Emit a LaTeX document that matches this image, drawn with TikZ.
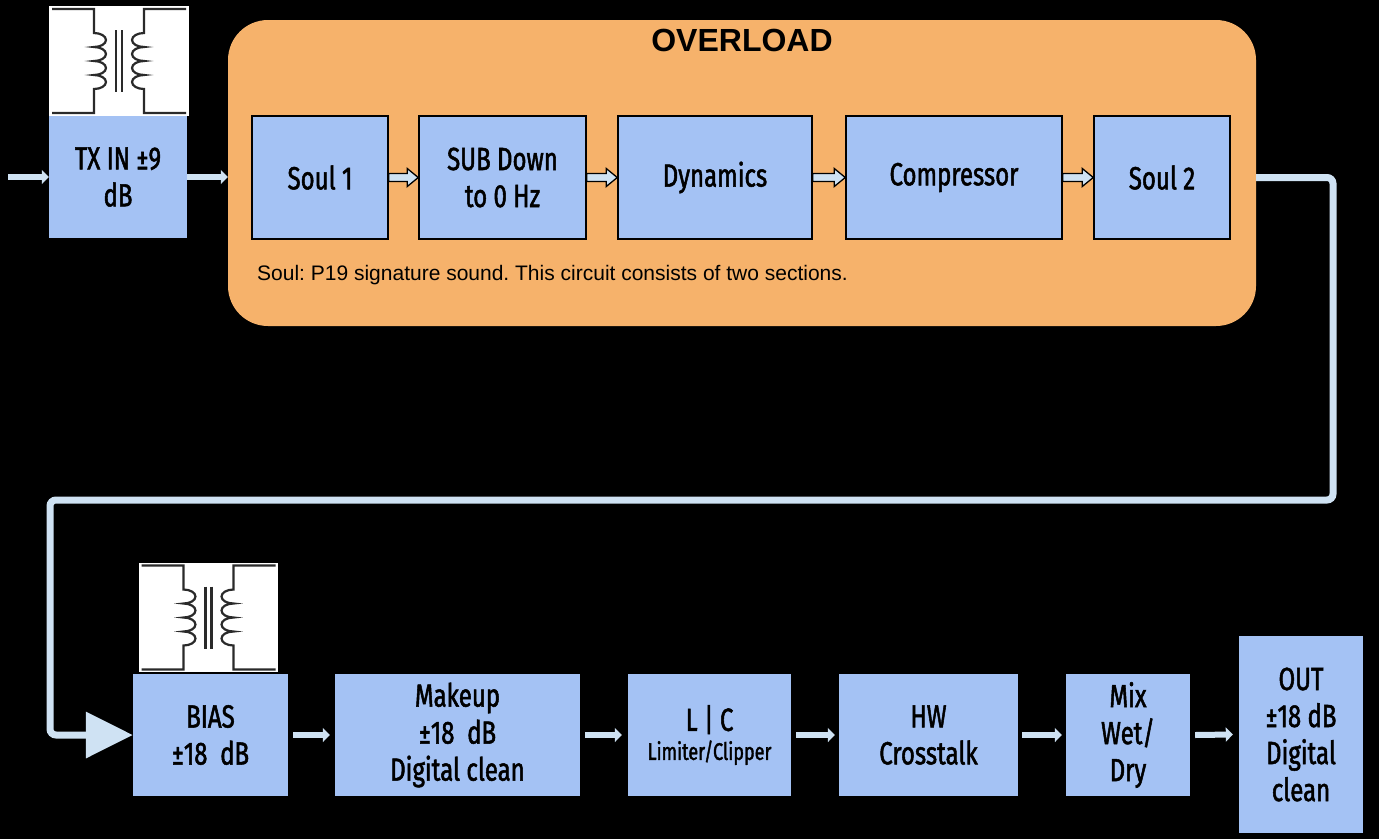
\documentclass[tikz,border=0pt]{standalone}
\usepackage{fontspec}
\setmainfont{Liberation Sans}
\newfontfamily\osw[FakeStretch=0.75,FakeBold=1.6]{Fira Sans}
\usetikzlibrary{arrows.meta,calc}
\definecolor{boxblue}{HTML}{A4C2F4}
\definecolor{ovlorange}{HTML}{F6B26B}
\definecolor{arrowblue}{HTML}{CFE2F3}
\definecolor{wirec}{HTML}{2A2A2A}
\frenchspacing
\tikzset{
  blk/.style={fill=boxblue, inner sep=0pt, align=center, text=black,
    font=\osw\fontsize{32}{37}\selectfont},
  inblk/.style={blk, draw=black, line width=1.5pt},
  xfbox/.style={fill=white, inner sep=0pt},
  flow/.style={draw=arrowblue, line width=6pt, -{Triangle[length=7pt,width=14pt]}},
  loopline/.style={draw=arrowblue, line width=7pt, rounded corners=6pt,
    -{Triangle[length=47pt,width=45pt]}},
  blockarr/.style={fill=arrowblue, draw=black, line width=1.3pt, line join=miter},
  wire/.style={draw=wirec, line width=2.2pt}
}
\newcommand{\blockarrow}[2]{%
  \draw[blockarr] let \p1=(#1.east), \p2=(#2.west) in
    (\x1,\y1+4pt) -- (\x2-11pt,\y1+4pt) -- (\x2-11pt,\y1+9pt) -- (\x2,\y1)
    -- (\x2-11pt,\y1-9pt) -- (\x2-11pt,\y1-4pt) -- (\x1,\y1-4pt) -- cycle;}
\newcommand{\xfmr}[1]{%
  \begin{scope}[shift={(#1.center)}]
    \draw[wire] (-67,-52) -- (-25,-52) -- (-25,-28)
      arc[start angle=-90,end angle=90,x radius=12,y radius=7]
      arc[start angle=-90,end angle=90,x radius=12,y radius=7]
      arc[start angle=-90,end angle=90,x radius=12,y radius=7]
      arc[start angle=-90,end angle=90,x radius=12,y radius=7]
      -- (-25,52) -- (-67,52);
    \draw[wire] (67,-52) -- (25,-52) -- (25,-28)
      arc[start angle=270,end angle=90,x radius=12,y radius=7]
      arc[start angle=270,end angle=90,x radius=12,y radius=7]
      arc[start angle=270,end angle=90,x radius=12,y radius=7]
      arc[start angle=270,end angle=90,x radius=12,y radius=7]
      -- (25,52) -- (67,52);
    \draw[wire] (-3,-31) -- (-3,31);
    \draw[wire] (3,-31) -- (3,31);
  \end{scope}}
\begin{document}
\begin{tikzpicture}[x=1pt,y=-1pt]
\fill[black] (0,0) rectangle (1379,839);
\useasboundingbox (0,0) rectangle (1379,839);

% top row
\node[xfbox, minimum width=140, minimum height=110] (tf1) at (119,61) {};
\xfmr{tf1}
\node[blk, minimum width=138, minimum height=122] (tx) at (118,177) {TX IN ±9\\dB};
\coordinate (in) at (8,177);

\node[fill=ovlorange, rounded corners=40pt, minimum width=1028, minimum height=306, inner sep=0pt] (ovl) at (742,173) {};
\node[font=\bfseries\fontsize{32}{36}\selectfont, text=black] (title) at (742,40) {OVERLOAD};
\node[font=\fontsize{21}{24}\selectfont, text=black, anchor=west, inner sep=0pt] (cap) at (257,275) {Soul: P19 signature sound. This circuit consists of two sections.};

\node[inblk, minimum width=136, minimum height=123] (s1) at (320,177.5) {Soul 1};
\node[inblk, minimum width=167, minimum height=123] (sub) at (502.5,177.5) {SUB Down\\to 0 Hz};
\node[inblk, minimum width=194, minimum height=123] (dyn) at (715,177.5) {Dynamics};
\node[inblk, minimum width=216, minimum height=123] (comp) at (954,177.5) {Compressor};
\node[inblk, minimum width=136, minimum height=123] (s2) at (1162,177.5) {Soul 2};

\draw[flow] (in) -- (tx.west);
\draw[flow] (tx.east) -- (tx.east -| ovl.west);
\blockarrow{s1}{sub}
\blockarrow{sub}{dyn}
\blockarrow{dyn}{comp}
\blockarrow{comp}{s2}

% bottom row
\node[xfbox, minimum width=139, minimum height=109] (tf2) at (208.5,617.5) {};
\xfmr{tf2}
\node[blk, minimum width=155, minimum height=122] (bias) at (210.5,735) {BIAS\\±18\ \ dB};
\node[blk, minimum width=245, minimum height=122] (mk) at (457.5,735) {Makeup\\±18\ \ dB\\Digital clean};
\node[blk, minimum width=163, minimum height=122] (lc) at (709.5,735) {L | C\\[-8pt]{\fontsize{24}{28}\selectfont Limiter/Clipper}};
\node[blk, minimum width=179, minimum height=122] (hw) at (928.5,735) {HW\\Crosstalk};
\node[blk, minimum width=124, minimum height=122] (mix) at (1128,735) {Mix\\Wet/\\Dry};
\node[blk, minimum width=124, minimum height=197] (out) at (1301,734.5) {OUT\\±18 dB\\Digital\\clean};

\draw[flow] ([xshift=5pt]bias.east) -- ([xshift=-5pt]mk.west);
\draw[flow] ([xshift=5pt]mk.east) -- ([xshift=-6pt]lc.west);
\draw[flow] ([xshift=5pt]lc.east) -- ([xshift=-4pt]hw.west);
\draw[flow] ([xshift=4pt]hw.east) -- ([xshift=-4pt]mix.west);
\draw[flow] ([xshift=5pt]mix.east) -- ([xshift=-6pt]out.west);

% loop connector
\coordinate (t1) at (1333,500);
\coordinate (t2) at (50,500);
\draw[loopline] (s2.east -| ovl.east) -| (t1) -- (t2) |- (bias.west);
\end{tikzpicture}
\end{document}
